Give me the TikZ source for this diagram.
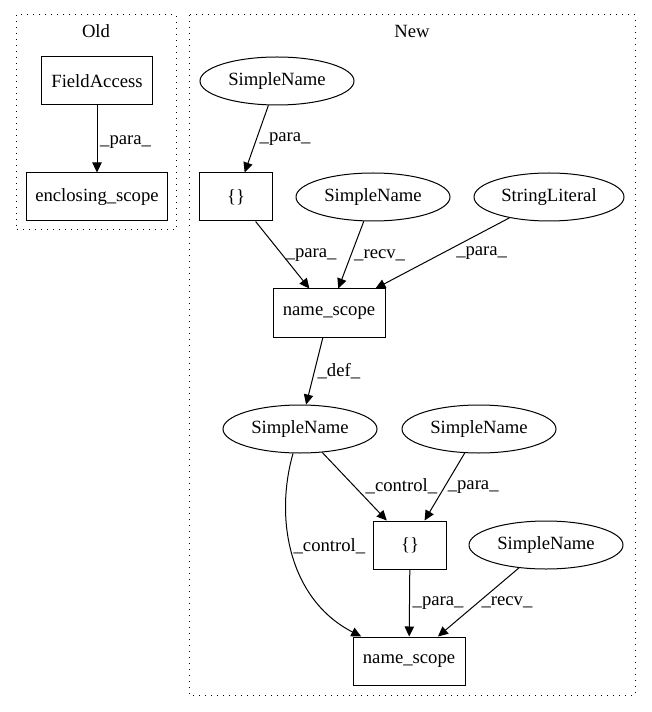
\documentclass[tikz,border=0pt]{standalone}
\usepackage{fontspec}
\setmainfont{Liberation Serif}
\usetikzlibrary{shapes.geometric,arrows.meta}
\tikzset{every path/.style={line width=0.75pt},
  box/.style={draw,rectangle,minimum height=36pt,inner sep=0pt,font=\fontsize{14}{16}\selectfont},
  oval/.style={draw,ellipse,minimum width=115.5pt,minimum height=36pt,inner sep=0pt,font=\fontsize{14}{16}\selectfont},
  elabel/.style={font=\fontsize{14}{16}\selectfont,inner sep=2pt},
  edge/.style={-{Triangle[length=7.5pt,width=7pt]}},
  cluster/.style={draw,dash pattern=on 0.75pt off 3.75pt}}

\begin{document}
\begin{tikzpicture}[x=0.75pt,y=-0.75pt]
  \useasboundingbox (0,0) rectangle (651,712);
  \begin{scope}
   \draw[cluster] (16,15) rectangle (176,230);
   \node[elabel] (old) at (96,31) {Old};
   \node[box,minimum width=83pt] (fa) at (97,81) {FieldAccess};
   \node[box,minimum width=106pt] (es) at (97,197) {enclosing\_scope};
   \draw[edge] (fa) -- node[elabel,right,pos=0.55] {\_para\_} (es);
  \end{scope}
  \begin{scope}
   \draw[cluster] (189,15) rectangle (635,695);
   \node[elabel] (new) at (412,31) {New};
   \node[oval] (sn1) at (277,81) {SimpleName};
   \node[box,minimum width=55pt] (b1) at (236,197) {\{\}};
   \node[oval] (sn2) at (373,197) {SimpleName};
   \node[oval,minimum width=112.5pt] (sl) at (549,197) {StringLiteral};
   \node[box,minimum width=84pt] (ns1) at (329,313) {name\_scope};
   \node[oval] (sn3) at (300,429) {SimpleName};
   \node[oval] (sn4) at (479,429) {SimpleName};
   \node[box,minimum width=55pt] (b2) at (410,545) {\{\}};
   \node[oval] (sn5) at (546,545) {SimpleName};
   \node[box,minimum width=84pt] (ns2) at (409,661) {name\_scope};
   \draw[edge] (sn1) -- node[elabel,right] {\_para\_} (b1);
   \draw[edge] (b1) -- node[elabel,right] {\_para\_} (ns1);
   \draw[edge] (sn2) -- node[elabel,right] {\_recv\_} (ns1);
   \draw[edge] (sl) -- node[elabel,right,xshift=8pt] {\_para\_} (ns1);
   \draw[edge] (ns1) -- node[elabel,right] {\_def\_} (sn3);
   \draw[edge] (sn3) -- node[elabel,right,xshift=6pt] {\_control\_} (b2);
   \draw[edge] (sn4) -- node[elabel,right] {\_para\_} (b2);
   \draw[edge] (sn3) .. controls (274,520) and (290,600) .. node[elabel,right,pos=0.45] {\_control\_} (ns2);
   \draw[edge] (b2) -- node[elabel,right] {\_para\_} (ns2);
   \draw[edge] (sn5) -- node[elabel,right] {\_recv\_} (ns2);
  \end{scope}
\end{tikzpicture}
\end{document}
